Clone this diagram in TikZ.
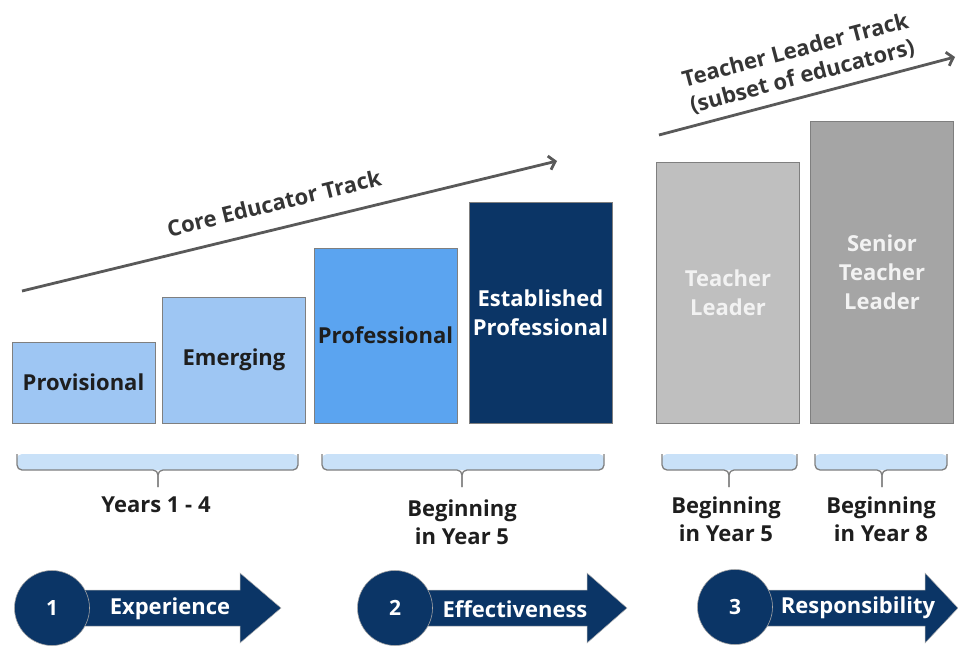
\documentclass[tikz,border=0pt]{standalone}
\usepackage{fontspec}
\setmainfont{Open Sans}
\usetikzlibrary{arrows.meta}
\definecolor{lblue}{HTML}{9EC6F3}
\definecolor{mblue}{HTML}{5BA4F0}
\definecolor{navy}{HTML}{0B3566}
\definecolor{lgrey}{HTML}{BFBFBF}
\definecolor{mgrey}{HTML}{A5A5A5}
\definecolor{bracefill}{HTML}{C9E1F8}
\definecolor{boxline}{HTML}{7F7F7F}
\definecolor{txt}{HTML}{1E1E1E}
\definecolor{trackline}{HTML}{595959}
\newcommand\mybrace[3]{%
  \fill[bracefill,rounded corners=5pt] (#1,454) -- (#1,470) -- (#2,470) -- (#2,454) -- cycle;
  \draw[bracestyle] (#1,454) -- (#1,470) -- (#3,470) -- (#3,487);
  \draw[bracestyle] (#2,454) -- (#2,470) -- (#3,470) -- (#3,487);
}
\newcommand\myarrow[3]{% start x, head start x, tip x
  \fill[navy,draw=gray!60,line width=0.5pt] (#1,590) -- (#2,590) -- (#2,573) -- (#3,608) -- (#2,643) -- (#2,626) -- (#1,626) -- cycle;
}
\begin{document}
\begin{tikzpicture}[x=1pt,y=-1pt,
  box/.style={draw=boxline,line width=1pt,minimum width=143pt,inner sep=0pt,
    font=\bfseries\fontsize{22}{29}\selectfont,align=center,text=txt},
  bracestyle/.style={draw=boxline,line width=1.3pt,rounded corners=5pt},
  lab/.style={font=\bfseries\fontsize{22}{28}\selectfont,align=center,text=txt},
  track/.style={draw=trackline,line width=2.8pt,-{Straight Barb[length=6pt,width=14pt]}},
  tracklab/.style={font=\bfseries\fontsize{22}{27}\selectfont,align=center,text=txt!90},
  num/.style={circle,fill=navy,draw=gray!70,line width=0.6pt,minimum size=75pt,inner sep=0pt,
    text=white,font=\bfseries\fontsize{21}{24}\selectfont},
  arrlab/.style={text=white,font=\bfseries\fontsize{22}{24}\selectfont}]
\useasboundingbox (0,0) rectangle (958,645);

% boxes
\node[box,fill=lblue,minimum height=81pt] (prov) at (83.5,382.5) {Provisional};
\node[box,fill=lblue,minimum height=126pt] (emer) at (234,360) {Emerging};
\node[box,fill=mblue,minimum height=175pt] (prof) at (385.5,335.5) {Professional};
\node[box,fill=navy,text=white,minimum height=221pt] (estab) at (540.5,312.5) {Established\\Professional};
\node[box,fill=lgrey,text=white!95!black,minimum height=261pt] (tl) at (728,292.5) {Teacher\\Leader};
\node[box,fill=mgrey,text=white!95!black,minimum height=302pt] (stl) at (882,272) {Senior\\Teacher\\Leader};

% track arrows
\coordinate (c1) at (22,291);
\coordinate (c2) at (557,161);
\draw[track] (c1) -- (c2);
\node[tracklab,rotate=13.7] (ctl) at (274,203) {Core Educator Track};
\coordinate (t1) at (659,135);
\coordinate (t2) at (955,57);
\draw[track] (t1) -- (t2);
\node[tracklab,rotate=14.8] (ttl) at (799,64) {Teacher Leader Track\\(subset of educators)};

% braces
\mybrace{17}{298}{158}
\mybrace{322}{604}{462}
\mybrace{662}{797}{729}
\mybrace{815}{947}{882}
\node[lab] (y1) at (156,505) {Years 1 - 4};
\node[lab] (y2) at (462,522) {Beginning\\in Year 5};
\node[lab] (y3) at (726,519) {Beginning\\in Year 5};
\node[lab] (y4) at (881,519) {Beginning\\in Year 8};

% bottom arrows
\myarrow{60}{240}{281}
\node[num] (n1) at (52,608) {1};
\node[arrlab] (a1) at (170,609) {Experience};
\myarrow{403}{587}{627}
\node[num] (n2) at (395,608) {2};
\node[arrlab] (a2) at (515,609) {Effectiveness};
\myarrow{743}{925}{958}
\node[num] (n3) at (735,607) {3};
\node[arrlab] (a3) at (858,608) {Responsibility};
\end{tikzpicture}
\end{document}
